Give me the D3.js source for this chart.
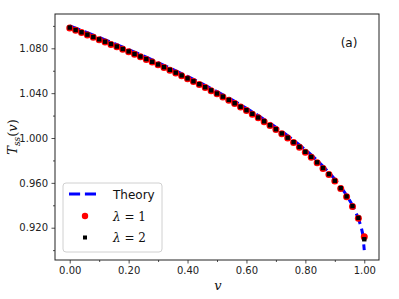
<!DOCTYPE html>
<html><head><meta charset="utf-8">
<script src="https://cdn.jsdelivr.net/npm/d3@7"></script>
<style>body{margin:0;background:#fff}svg{display:block}</style>
</head><body>
<svg id="c" width="399" height="299"></svg>
<script>
const vTheory = [0,0.02,0.04,0.06,0.08,0.10,0.12,0.14,0.16,0.18,0.20,0.22,0.24,0.26,0.28,0.30,0.32,0.34,0.36,0.38,0.40,0.42,0.44,0.46,0.48,0.50,0.52,0.54,0.56,0.58,0.60,0.62,0.64,0.66,0.68,0.70,0.72,0.74,0.76,0.78,0.80,0.82,0.84,0.86,0.88,0.90,0.92,0.94,0.96,0.98,0.99,0.995,1.0];
const theory = [1.1000,1.0980,1.0960,1.0939,1.0918,1.0897,1.0876,1.0855,1.0833,1.0811,1.0789,1.0766,1.0744,1.0721,1.0697,1.0673,1.0649,1.0625,1.0600,1.0575,1.0549,1.0523,1.0497,1.0470,1.0442,1.0414,1.0386,1.0357,1.0327,1.0296,1.0265,1.0233,1.0200,1.0166,1.0131,1.0095,1.0058,1.0020,0.9980,0.9938,0.9894,0.9849,0.9800,0.9748,0.9693,0.9633,0.9566,0.9490,0.9400,0.9283,0.9200,0.9141,0.9000];
const vSim = [0,0.02,0.04,0.06,0.08,0.10,0.12,0.14,0.16,0.18,0.20,0.22,0.24,0.26,0.28,0.30,0.32,0.34,0.36,0.38,0.40,0.42,0.44,0.46,0.48,0.50,0.52,0.54,0.56,0.58,0.60,0.62,0.64,0.66,0.68,0.70,0.72,0.74,0.76,0.78,0.80,0.82,0.84,0.86,0.88,0.90,0.92,0.94,0.96,0.98,1.0];
const lambda1 = [1.0982,1.0960,1.0940,1.0919,1.0898,1.0877,1.0856,1.0835,1.0813,1.0791,1.0769,1.0746,1.0724,1.0701,1.0677,1.0653,1.0629,1.0605,1.0580,1.0555,1.0529,1.0503,1.0477,1.0450,1.0422,1.0394,1.0366,1.0337,1.0307,1.0276,1.0245,1.0213,1.0180,1.0146,1.0111,1.0075,1.0038,1.0000,0.9960,0.9918,0.9874,0.9829,0.9780,0.9729,0.9675,0.9616,0.9550,0.9476,0.9390,0.9285,0.9120];
const lambda2 = [1.0985,1.0963,1.0943,1.0922,1.0901,1.0880,1.0859,1.0838,1.0816,1.0794,1.0772,1.0749,1.0727,1.0704,1.0680,1.0656,1.0632,1.0608,1.0583,1.0558,1.0532,1.0506,1.0480,1.0453,1.0425,1.0397,1.0369,1.0340,1.0310,1.0279,1.0248,1.0216,1.0183,1.0149,1.0114,1.0078,1.0041,1.0003,0.9963,0.9921,0.9877,0.9832,0.9783,0.9732,0.9678,0.9619,0.9553,0.9479,0.9393,0.9288,0.9097];
const xTicks = [0,0.2,0.4,0.6,0.8,1.0];
const xMinor = [0.1,0.3,0.5,0.7,0.9];
const yTicks = [0.92,0.96,1.00,1.04,1.08];
const yMinor = [0.90,0.94,0.98,1.02,1.06,1.10];

const svg = d3.select("#c");
const L=55,R=379,T=14,B=260;
const x = d3.scaleLinear().domain([-0.05,1.05]).range([L,R]);
const y = d3.scaleLinear().domain([0.8912,1.1106]).range([B,T]);

const gx = svg.append("g").attr("transform",`translate(0,${B})`);
gx.call(d3.axisBottom(x).tickValues(xTicks).tickFormat(d3.format(".2f")).tickSize(3.5).tickPadding(3.5));
gx.append("g").call(d3.axisBottom(x).tickValues(xMinor).tickFormat("").tickSize(2));
const gy = svg.append("g").attr("transform",`translate(${L},0)`);
gy.call(d3.axisLeft(y).tickValues(yTicks).tickFormat(d3.format(".3f")).tickSize(3.5).tickPadding(3.5));
gy.append("g").call(d3.axisLeft(y).tickValues(yMinor).tickFormat("").tickSize(2));
svg.selectAll(".domain").remove();
svg.selectAll(".tick text").attr("font-family","DejaVu Sans").attr("font-size",10).attr("fill","#222");
svg.selectAll(".tick line").attr("stroke","#222").attr("stroke-width",0.8);

svg.append("clipPath").attr("id","cp").append("rect").attr("x",L).attr("y",T).attr("width",R-L).attr("height",B-T);
const plot = svg.append("g").attr("clip-path","url(#cp)");

const line = d3.line().x((d,i)=>x(vTheory[i])).y(d=>y(d));
plot.append("path").datum(theory).attr("d",line).attr("fill","none").attr("stroke","#0000ff").attr("stroke-width",3).attr("stroke-dasharray","11.1,4.8");

plot.selectAll("circle.r").data(lambda1).enter().append("circle").attr("class","r")
  .attr("cx",(d,i)=>x(vSim[i])).attr("cy",d=>y(d)).attr("r",3.5).attr("fill","#ff0000");
plot.selectAll("rect.k").data(lambda2).enter().append("rect").attr("class","k")
  .attr("x",(d,i)=>x(vSim[i])-2.2).attr("y",d=>y(d)-2.2).attr("width",4.4).attr("height",4.4).attr("fill","#000");

svg.append("rect").attr("x",L).attr("y",T).attr("width",R-L).attr("height",B-T).attr("fill","none").attr("stroke","#222").attr("stroke-width",1);

// legend
const lg = svg.append("g");
lg.append("rect").attr("x",63).attr("y",183).attr("width",99).attr("height",69).attr("rx",3)
  .attr("fill","#fff").attr("fill-opacity",0.8).attr("stroke","#d0d0d0").attr("stroke-width",1);
lg.append("line").attr("x1",69).attr("x2",100).attr("y1",194).attr("y2",194).attr("stroke","#0000ff").attr("stroke-width",3).attr("stroke-dasharray","11.1,4.8");
lg.append("text").attr("x",113).attr("y",199).attr("font-family","DejaVu Sans").attr("font-size",12).attr("fill","#111").text("Theory");
lg.append("circle").attr("cx",85).attr("cy",216).attr("r",3.2).attr("fill","#ff0000");
lg.append("rect").attr("x",83).attr("y",235.5).attr("width",4).attr("height",4).attr("fill","#000");
const labs = [["1",220.5],["2",242]];
labs.forEach(([n,yy])=>{
  const t = lg.append("text").attr("x",113).attr("y",yy).attr("font-family","DejaVu Serif").attr("font-size",12).attr("fill","#111");
  t.append("tspan").attr("font-style","italic").text("λ");
  t.append("tspan").text(" = " + n);
});

// labels
svg.append("text").attr("x",349).attr("y",47).attr("text-anchor","middle").attr("font-family","DejaVu Sans").attr("font-size",12).attr("fill","#111").text("(a)");
svg.append("text").attr("x",218).attr("y",290).attr("text-anchor","middle").attr("font-family","DejaVu Serif").attr("font-style","italic").attr("font-size",13).attr("fill","#111").text("v");
const yl = svg.append("text").attr("transform","translate(17,137) rotate(-90)").attr("text-anchor","middle").attr("font-family","DejaVu Serif").attr("font-size",13).attr("fill","#111");
yl.append("tspan").attr("font-style","italic").text("T");
yl.append("tspan").attr("font-style","italic").attr("font-size",9).attr("dy",3).text("ss");
yl.append("tspan").attr("dy",-3).text("(");
yl.append("tspan").attr("font-style","italic").text("v");
yl.append("tspan").text(")");
</script>
</body></html>
